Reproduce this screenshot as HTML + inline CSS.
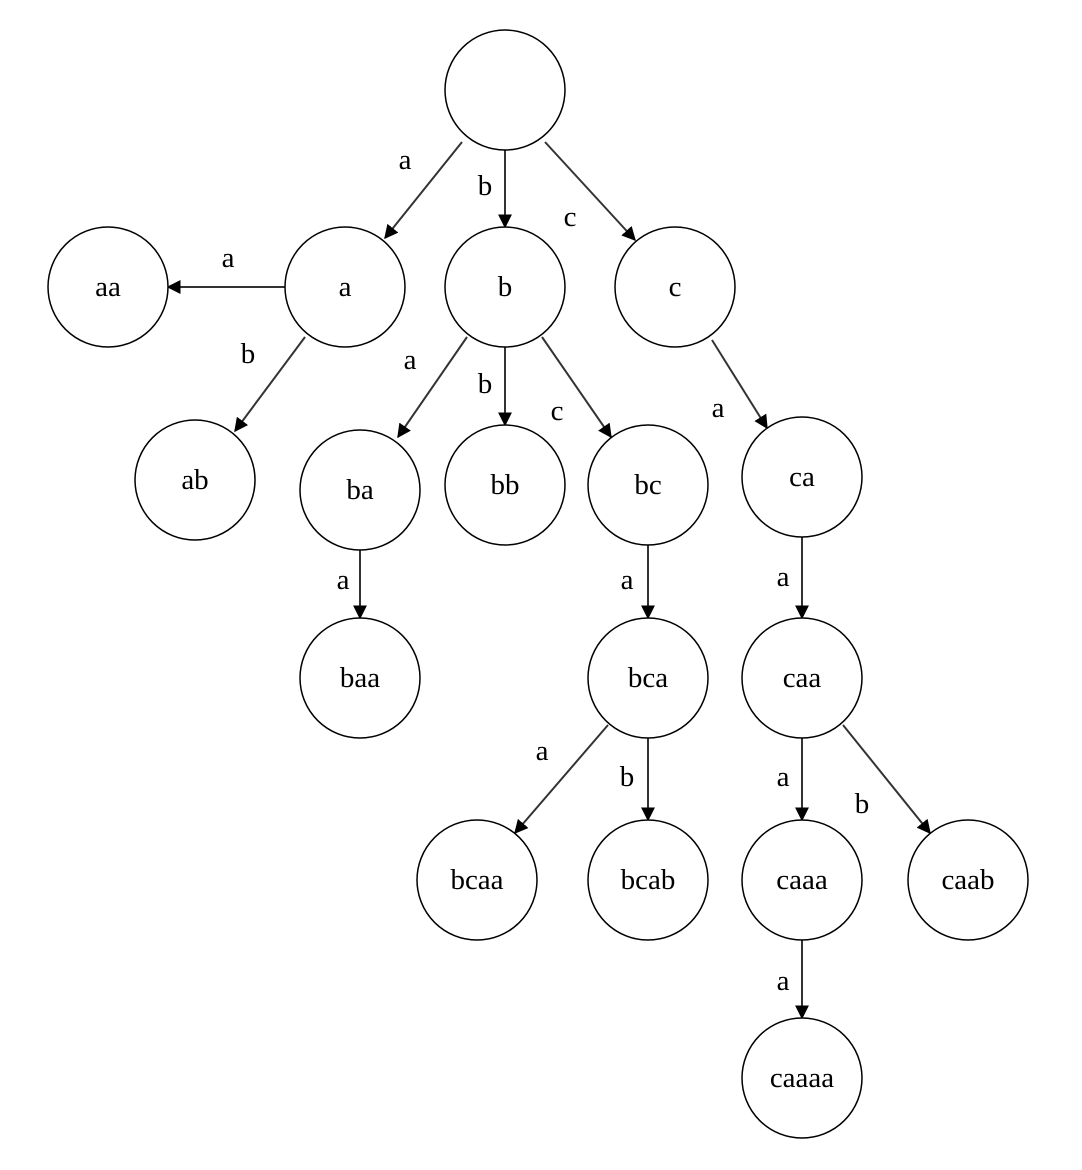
<!DOCTYPE html>
<html><head><meta charset="utf-8"><style>
html,body{margin:0;padding:0;background:#fff;}
svg{display:block;}
text{font-family:"Liberation Serif",serif;font-size:29px;fill:#000;}
</style></head><body>
<svg width="1082" height="1170" viewBox="0 0 1082 1170" xmlns="http://www.w3.org/2000/svg">
<defs><marker id="ar" viewBox="0 0 10 10" refX="9" refY="5" markerWidth="14" markerHeight="14" markerUnits="userSpaceOnUse" orient="auto"><path d="M0,0 L10,5 L0,10 z" fill="#000"/></marker></defs>
<g stroke="#333" stroke-width="2" fill="none" marker-end="url(#ar)">
<line x1="462" y1="142" x2="385" y2="238"/>
<line x1="505" y1="150" x2="505" y2="227"/>
<line x1="545" y1="142" x2="635" y2="240"/>
<line x1="285" y1="287" x2="168" y2="287"/>
<line x1="305" y1="337" x2="235" y2="431"/>
<line x1="467" y1="337" x2="398" y2="437"/>
<line x1="505" y1="347" x2="505" y2="425"/>
<line x1="542" y1="337" x2="611" y2="437"/>
<line x1="712" y1="340" x2="767" y2="428"/>
<line x1="360" y1="550" x2="360" y2="618"/>
<line x1="648" y1="545" x2="648" y2="618"/>
<line x1="802" y1="537" x2="802" y2="618"/>
<line x1="608" y1="725" x2="515" y2="833"/>
<line x1="648" y1="738" x2="648" y2="820"/>
<line x1="802" y1="738" x2="802" y2="820"/>
<line x1="843" y1="725" x2="930" y2="833"/>
<line x1="802" y1="940" x2="802" y2="1018"/>
</g>
<g stroke="#000" stroke-width="1.5" fill="#fff">
<circle cx="505" cy="90" r="60"/>
<circle cx="345" cy="287" r="60"/>
<circle cx="505" cy="287" r="60"/>
<circle cx="675" cy="287" r="60"/>
<circle cx="108" cy="287" r="60"/>
<circle cx="195" cy="480" r="60"/>
<circle cx="360" cy="490" r="60"/>
<circle cx="505" cy="485" r="60"/>
<circle cx="648" cy="485" r="60"/>
<circle cx="802" cy="477" r="60"/>
<circle cx="360" cy="678" r="60"/>
<circle cx="648" cy="678" r="60"/>
<circle cx="802" cy="678" r="60"/>
<circle cx="477" cy="880" r="60"/>
<circle cx="648" cy="880" r="60"/>
<circle cx="802" cy="880" r="60"/>
<circle cx="968" cy="880" r="60"/>
<circle cx="802" cy="1078" r="60"/>
</g>
<g text-anchor="middle" dominant-baseline="central">
<text x="345" y="287">a</text>
<text x="505" y="287">b</text>
<text x="675" y="287">c</text>
<text x="108" y="287">aa</text>
<text x="195" y="480">ab</text>
<text x="360" y="490">ba</text>
<text x="505" y="485">bb</text>
<text x="648" y="485">bc</text>
<text x="802" y="477">ca</text>
<text x="360" y="678">baa</text>
<text x="648" y="678">bca</text>
<text x="802" y="678">caa</text>
<text x="477" y="880">bcaa</text>
<text x="648" y="880">bcab</text>
<text x="802" y="880">caaa</text>
<text x="968" y="880">caab</text>
<text x="802" y="1078">caaaa</text>
<text x="405" y="160">a</text>
<text x="485" y="186">b</text>
<text x="570" y="217">c</text>
<text x="228" y="258">a</text>
<text x="248" y="354">b</text>
<text x="410" y="360">a</text>
<text x="485" y="384">b</text>
<text x="557" y="411">c</text>
<text x="718" y="408">a</text>
<text x="343" y="580">a</text>
<text x="627" y="580">a</text>
<text x="783" y="577">a</text>
<text x="542" y="751">a</text>
<text x="627" y="777">b</text>
<text x="783" y="777">a</text>
<text x="862" y="804">b</text>
<text x="783" y="981">a</text>
</g>
</svg>
</body></html>
